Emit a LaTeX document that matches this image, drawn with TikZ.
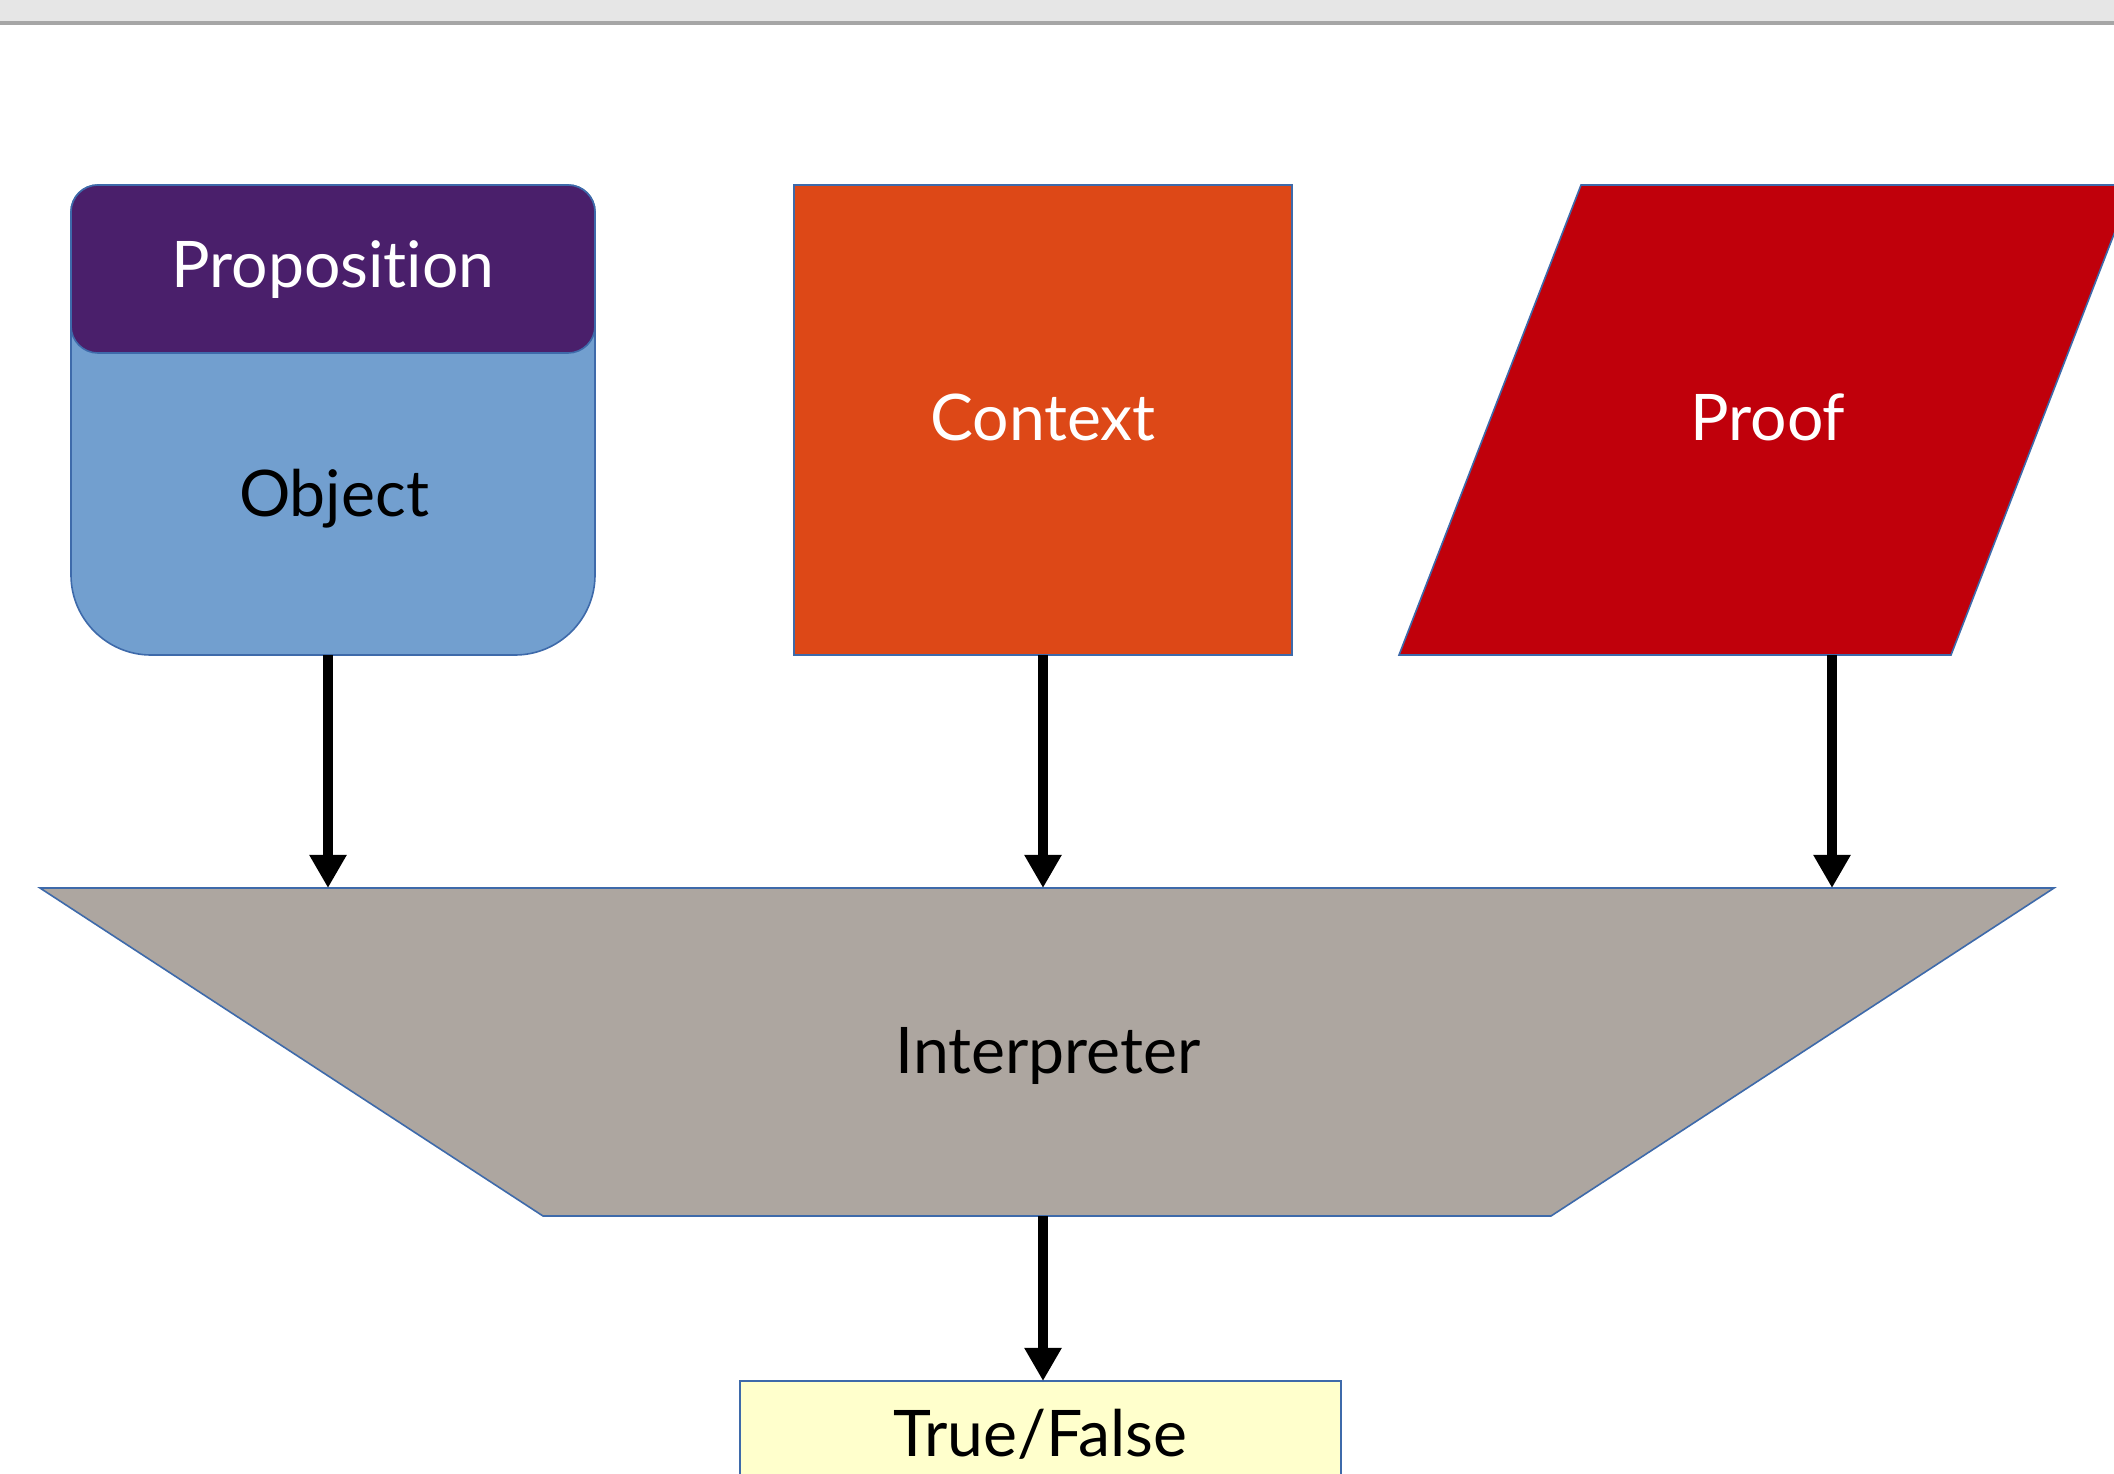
\documentclass[tikz,border=0pt]{standalone}
\usepackage{fontspec}
\setmainfont{Lato}[Ligatures={NoCommon}]
\usetikzlibrary{arrows.meta}
\definecolor{propPurple}{RGB}{74,31,107}
\definecolor{objBlue}{RGB}{114,159,207}
\definecolor{ctxOrange}{RGB}{221,72,23}
\definecolor{proofRed}{RGB}{192,0,11}
\definecolor{interpGray}{RGB}{173,166,160}
\definecolor{resultYellow}{RGB}{255,255,204}
\definecolor{edgeBlue}{RGB}{62,106,170}
\definecolor{barGray}{RGB}{230,230,230}
\definecolor{barLine}{RGB}{166,166,166}
\tikzset{
  shapeedge/.style={draw=edgeBlue, line width=1.6pt},
  label/.style={anchor=base, inner sep=0pt, font=\fontsize{64}{72}\selectfont},
  flow/.style={line width=10.5pt, -{Triangle[width=35pt,length=33pt]}},
}
\begin{document}
\begin{tikzpicture}[x=0.035cm, y=-0.035cm]
  \useasboundingbox (0,0) rectangle (2114,1474);
  \clip (0,0) rectangle (2114,1474);
  \fill[white] (0,0) rectangle (2114,1474);

  % window header strip
  \fill[barGray] (0,0) rectangle (2114,22);
  \fill[barLine] (0,21) rectangle (2114,25);

  % object card with its proposition header
  \path[shapeedge, fill=objBlue]
    (71,212) .. controls (71,197) and (83,185) .. (98,185) -- (568,185)
    .. controls (583,185) and (595,197) .. (595,212) -- (595,575)
    .. controls (595,619) and (559,655) .. (515,655) -- (151,655)
    .. controls (107,655) and (71,619) .. (71,575) -- cycle;
  \path[shapeedge, fill=propPurple, rounded corners=0.945cm] (71,185) rectangle (595,353);
  \node[label, text=white] (prop) at (333,287) {Proposition};
  \node[label] (obj) at (334,516) {Object};
  \coordinate (obj-s) at (328,655);

  % context box
  \path[shapeedge, fill=ctxOrange] (794,185) rectangle (1292,655);
  \node[label, text=white] (ctx) at (1043,440) {Context};
  \coordinate (ctx-s) at (1043,655);

  % proof parallelogram
  \path[shapeedge, fill=proofRed] (1581,185) -- (2133,185) -- (1951,655) -- (1399,655) -- cycle;
  \node[label, text=white] (proof) at (1768,440) {Proof};
  \coordinate (proof-s) at (1832,655);

  % interpreter funnel
  \path[shapeedge, fill=interpGray] (40,888) -- (2054,888) -- (1551,1216) -- (543,1216) -- cycle;
  \node[label] (interp) at (1048,1073) {Interpreter};
  \coordinate (interp-a) at (328,888);
  \coordinate (interp-b) at (1043,888);
  \coordinate (interp-c) at (1832,888);
  \coordinate (interp-s) at (1043,1216);

  % result box
  \path[shapeedge, fill=resultYellow] (740,1381) rectangle (1341,1490);
  \node[label] (result) at (1040,1456) {True/False};
  \coordinate (result-n) at (1043,1381);

  % connectors
  \draw[flow] (obj-s) -- (interp-a);
  \draw[flow] (ctx-s) -- (interp-b);
  \draw[flow] (proof-s) -- (interp-c);
  \draw[flow] (interp-s) -- (result-n);
\end{tikzpicture}
\end{document}
